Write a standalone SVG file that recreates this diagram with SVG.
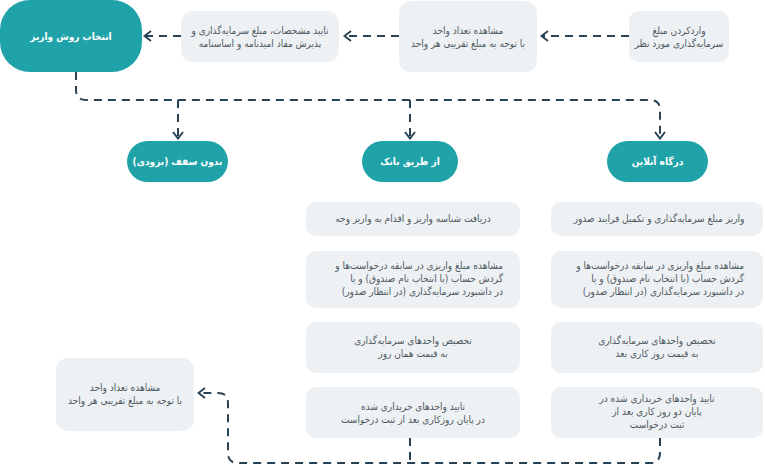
<svg xmlns="http://www.w3.org/2000/svg" width="765" height="465" viewBox="0 0 765 465">
<defs>
<style>
.box{fill:#EDF1F4;}
.pill{fill:#1FA3A9;}
.t{font-family:"DejaVu Sans Condensed","DejaVu Sans",sans-serif;font-size:10px;fill:#4E585F;direction:rtl;unicode-bidi:embed;}
.c{text-anchor:middle;}
.r{text-anchor:start;}
.w{font-family:"DejaVu Sans Condensed","DejaVu Sans",sans-serif;font-size:10px;font-weight:bold;fill:#FFFFFF;text-anchor:middle;direction:rtl;unicode-bidi:embed;}
.ln{fill:none;stroke:#2A4354;stroke-width:2;stroke-dasharray:8 6;}
</style>
<marker id="ah" viewBox="0 0 10 12" refX="9" refY="6" markerWidth="10" markerHeight="12" markerUnits="userSpaceOnUse" orient="auto">
<path d="M2,1 L8.5,6 L2,11" fill="none" stroke="#2A4354" stroke-width="2"/>
</marker>
</defs>
<rect width="765" height="465" fill="#FFFFFF"/>
<g id="connectors">
<path class="ln" d="M629,36 H541" marker-end="url(#ah)"/>
<path class="ln" d="M399,36 H344" marker-end="url(#ah)"/>
<path class="ln" d="M181,36 H144" marker-end="url(#ah)"/>
<path class="ln" d="M76,72 V90 Q76,100 86,100 H650 Q660,100 660,110 V139" marker-end="url(#ah)"/>
<path class="ln" d="M178,100 V139" marker-end="url(#ah)"/>
<path class="ln" d="M410,100 V139" marker-end="url(#ah)"/>
<path class="ln" d="M660,438 V453 Q660,463 650,463 H238 Q228,463 228,453 V403 Q228,393 218,393 H198" marker-end="url(#ah)"/>
<path class="ln" d="M410,438 V463"/>
</g>
<g id="n-select">
<rect class="pill" x="0" y="0" width="142" height="72" rx="30"/>
<text class="w" x="71" y="40" font-size="10.5">انتخاب روش واریز</text>
</g>
<g id="n-confirm">
<rect class="box" x="181" y="11" width="158" height="51" rx="12"/>
<text class="t c" x="260" y="34">تایید مشخصات، مبلغ سرمایه&#x200C;گذاری و</text>
<text class="t c" x="260" y="47">پذیرش مفاد امیدنامه و اساسنامه</text>
</g>
<g id="n-units">
<rect class="box" x="399" y="1" width="138" height="71" rx="12"/>
<text class="t c" x="468" y="34">مشاهده تعداد واحد</text>
<text class="t c" x="468" y="47">با توجه به مبلغ تقریبی هر واحد</text>
</g>
<g id="n-enter">
<rect class="box" x="629" y="11" width="100" height="51" rx="10"/>
<text class="t c" x="679" y="34">واردکردن مبلغ</text>
<text class="t c" x="679" y="47">سرمایه&#x200C;گذاری مورد نظر</text>
</g>
<g id="n-nolimit">
<rect class="pill" x="127" y="141" width="101" height="41" rx="20.5"/>
<text class="w" x="177.5" y="165">بدون سقف (بزودی)</text>
</g>
<g id="n-bank">
<rect class="pill" x="362" y="141" width="96" height="41" rx="20.5"/>
<text class="w" x="410" y="165">از طریق بانک</text>
</g>
<g id="n-online">
<rect class="pill" x="607" y="141" width="101" height="41" rx="20.5"/>
<text class="w" x="657.5" y="165">درگاه آنلاین</text>
</g>
<g id="n-online-1">
<rect class="box" x="551" y="202" width="212" height="34" rx="10"/>
<text class="t c" x="659" y="222">واریز مبلغ سرمایه&#x200C;گذاری و تکمیل فرایند صدور</text>
</g>
<g id="n-online-2">
<rect class="box" x="551" y="251" width="212" height="57" rx="10"/>
<text class="t r" x="744" y="269">مشاهده مبلغ واریزی در سابقه درخواست&#x200C;ها و</text>
<text class="t r" x="744" y="282">گردش حساب (با انتخاب نام صندوق) و یا</text>
<text class="t r" x="744" y="295">در داشبورد سرمایه&#x200C;گذاری (در انتظار صدور)</text>
</g>
<g id="n-online-3">
<rect class="box" x="551" y="322" width="212" height="51" rx="10"/>
<text class="t c" x="657" y="344">تخصیص واحدهای سرمایه&#x200C;گذاری</text>
<text class="t c" x="657" y="357">به قیمت روز کاری بعد</text>
</g>
<g id="n-online-4">
<rect class="box" x="551" y="387" width="212" height="51" rx="10"/>
<text class="t c" x="657" y="402">تایید واحدهای خریداری شده در</text>
<text class="t c" x="657" y="415">پایان دو روز کاری بعد از</text>
<text class="t c" x="657" y="428">ثبت درخواست</text>
</g>
<g id="n-bank-1">
<rect class="box" x="306" y="202" width="214" height="34" rx="10"/>
<text class="t c" x="413" y="222">دریافت شناسه واریز و اقدام به واریز وجه</text>
</g>
<g id="n-bank-2">
<rect class="box" x="306" y="251" width="214" height="57" rx="10"/>
<text class="t r" x="503" y="269">مشاهده مبلغ واریزی در سابقه درخواست&#x200C;ها و</text>
<text class="t r" x="503" y="282">گردش حساب (با انتخاب نام صندوق) و یا</text>
<text class="t r" x="503" y="295">در داشبورد سرمایه&#x200C;گذاری (در انتظار صدور)</text>
</g>
<g id="n-bank-3">
<rect class="box" x="306" y="322" width="214" height="51" rx="10"/>
<text class="t c" x="413" y="344">تخصیص واحدهای سرمایه&#x200C;گذاری</text>
<text class="t c" x="413" y="357">به قیمت همان روز</text>
</g>
<g id="n-bank-4">
<rect class="box" x="306" y="387" width="214" height="51" rx="10"/>
<text class="t c" x="413" y="410">تایید واحدهای خریداری شده</text>
<text class="t c" x="413" y="423">در پایان روزکاری بعد از ثبت درخواست</text>
</g>
<g id="n-units-2">
<rect class="box" x="56" y="358" width="138" height="73" rx="12"/>
<text class="t c" x="125" y="391">مشاهده تعداد واحد</text>
<text class="t c" x="125" y="404">با توجه به مبلغ تقریبی هر واحد</text>
</g>
</svg>
